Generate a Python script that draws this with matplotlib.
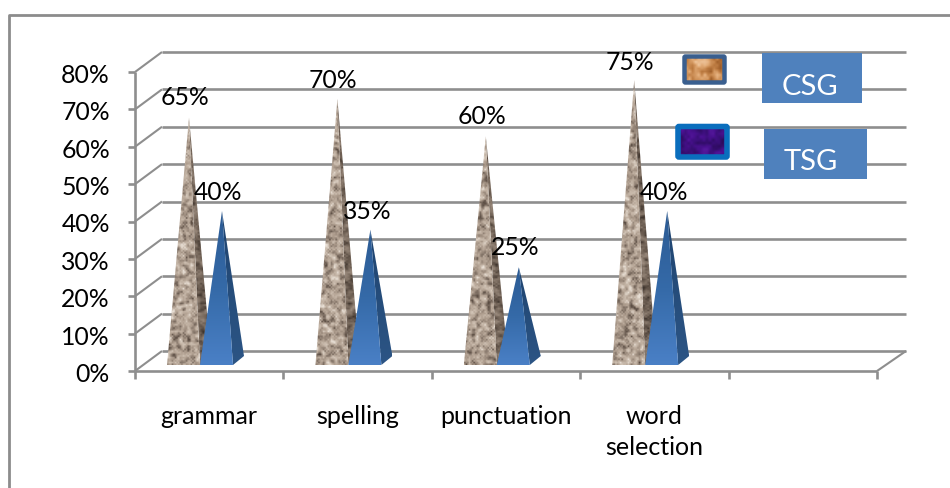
import numpy as np
import matplotlib
matplotlib.use("Agg")
import matplotlib.pyplot as plt
from matplotlib.patches import Polygon, Rectangle, FancyBboxPatch
from matplotlib.colors import LinearSegmentedColormap

categories = ["grammar", "spelling", "punctuation", "word\nselection", "", ""]
csg_values = [65, 70, 60, 75]
tsg_values = [40, 35, 25, 40]
y_ticks = [0, 10, 20, 30, 40, 50, 60, 70, 80]

plt.rcParams["font.family"] = ["Lato", "DejaVu Sans"]

GRID = "#8e8e8e"
W, H = 950, 489
# plot box in pixels, front plane
LEFT, RIGHT, BOTTOM, TOP = 135, 877, 372, 73

fig = plt.figure(figsize=(W / 100, H / 100), dpi=100)
ax = fig.add_axes([LEFT / W, 1 - BOTTOM / H, (RIGHT - LEFT) / W, (BOTTOM - TOP) / H])
ax.set_xlim(0, 5)
ax.set_ylim(0, 80)
ax.axis("off")

px_x = 5 / (RIGHT - LEFT)
px_y = 80 / (BOTTOM - TOP)
depth_x = 27 * px_x
depth_y = 20 * px_y
wall_end = 5 + 29 * px_x


def line(xs, ys, lw=1.9, color=GRID, z=1):
    ax.plot(xs, ys, color=color, lw=lw, clip_on=False, zorder=z, solid_capstyle="butt")


# back wall, side wall and floor
for v in y_ticks:
    line([0, depth_x], [v, v + depth_y], lw=1.5)
    line([depth_x, wall_end], [v + depth_y, v + depth_y])
    line([-7 * px_x, 0], [v, v])
line([0, 0], [0, 80])
line([0, 5], [0, 0])
line([5, wall_end], [0, depth_y], lw=1.5)
for i in range(6):
    line([i, i], [0, -8 * px_y])

for v in y_ticks:
    ax.text(-25 * px_x, v - 2.5 * px_y, f"{v}%", ha="right", va="center", fontsize=17.8, color="black")

for i, name in enumerate(categories):
    if name:
        ax.text(i + 0.5, -33 * px_y, name, ha="center", va="top", fontsize=18,
                color="black", linespacing=1.42, clip_on=False)

rng = np.random.default_rng(4)


def speckle(rows=160, cols=30, passes=1):
    # fine noise used for the stone and swatch fills
    a = rng.random((rows, cols))
    for _ in range(passes):
        a = (a + np.roll(a, 1, 0) + np.roll(a, 1, 1) + np.roll(a, -1, 0) + np.roll(a, -1, 1)) / 5
    lo, hi = np.percentile(a, [1, 99])
    return np.clip((a - lo) / (hi - lo), 0, 1)


stone = LinearSegmentedColormap.from_list("stone", ["#5a4c42", "#85766a", "#a99889", "#bdad9e", "#cdbfb1", "#e8dfd5"])
stone_dark = LinearSegmentedColormap.from_list("stone_dark", ["#3d332c", "#65574c", "#857669", "#9c8c7f"])
copper = LinearSegmentedColormap.from_list("copper_fill", ["#9c5c28", "#c07f45", "#dfa772", "#f0c8a0"])
violet = LinearSegmentedColormap.from_list("violet_fill", ["#2c0b5c", "#3a0f78", "#4a1190", "#551a9c"])
blue_front = LinearSegmentedColormap.from_list("blue_front", ["#2b5a93", "#356aa8", "#4a80c6"])
blue_side = LinearSegmentedColormap.from_list("blue_side", ["#1f4470", "#2c5585"])

base_w = 33 * px_x
base_dx = 11 * px_x
base_dy = 9 * px_y
# pyramid apex sits over the middle of the base, base front edge is 6px above the floor line
floor = 6 * px_y


def clipped_image(data, cmap, poly, z):
    xy = np.array(poly)
    im = ax.imshow(data, cmap=cmap, aspect="auto", origin="upper", zorder=z, vmin=0, vmax=1,
                   extent=[xy[:, 0].min(), xy[:, 0].max(), xy[:, 1].min(), xy[:, 1].max()],
                   interpolation="bilinear", clip_on=True)
    patch = Polygon(poly, closed=True, transform=ax.transData, fc="none", ec="none")
    ax.add_patch(patch)
    im.set_clip_path(patch)


def pyramid(x0, value, front_img, front_cmap, side_img, side_cmap, z):
    # value is read at the apex, measured from the centre of the base
    cx = x0 + base_w / 2 + base_dx / 2
    cy = floor + base_dy / 2
    apex = (cx, cy + value)
    a = (x0, floor)
    b = (x0 + base_w, floor)
    c = (x0 + base_w + base_dx, floor + base_dy)
    clipped_image(side_img, side_cmap, [b, c, apex], z)
    clipped_image(front_img, front_cmap, [a, b, apex], z + 0.1)


grad = np.linspace(0, 1, 256).reshape(-1, 1)
for i in range(4):
    x_csg = i + (167 - LEFT) * px_x
    x_tsg = x_csg + base_w
    rows = int(csg_values[i] / px_y / 1.6)
    pyramid(x_csg, csg_values[i], speckle(rows, 21), stone, speckle(rows, 10), stone_dark, 3 + i * 0.01)
    pyramid(x_tsg, tsg_values[i], grad, blue_front, grad, blue_side, 4 + i * 0.01)
ax.set_xlim(0, 5)
ax.set_ylim(0, 80)

# value labels sit just above and to the left of each apex
csg_lift = [21, 19, 21, 19]
tsg_lift = [19, 19, 21, 19]
for i in range(4):
    x_csg = i + (167 - LEFT) * px_x
    cx_c = x_csg + base_w / 2 + base_dx / 2
    cx_t = cx_c + base_w
    cy = floor + base_dy / 2
    ax.text(cx_c - 4 * px_x, cy + csg_values[i] + csg_lift[i] * px_y, f"{csg_values[i]}%", ha="center", va="center",
            fontsize=17.8, zorder=6, clip_on=False)
    ax.text(cx_t - 3.5 * px_x, cy + tsg_values[i] + tsg_lift[i] * px_y, f"{tsg_values[i]}%", ha="center", va="center",
            fontsize=17.8, zorder=6, clip_on=False)

# hand placed key, drawn in a pixel axes on top
key = fig.add_axes([0, 0, 1, 1])
key.axis("off")
key.patch.set_alpha(0)


def swatch(x0, y0, x1, y1, edge, lw, cmap):
    key.imshow(speckle(int(y1 - y0) // 3, int(x1 - x0) // 3, 1), cmap=cmap, extent=[x0, x1, y1, y0],
               aspect="auto", zorder=3, interpolation="bilinear", vmin=0, vmax=1)
    key.add_patch(FancyBboxPatch((x0, y0), x1 - x0, y1 - y0, boxstyle="round,pad=0,rounding_size=1",
                                 fc="none", ec=edge, lw=lw, zorder=4))


swatch(684.5, 57.5, 724.5, 83.5, "#3a5f8f", 3.2, copper)
swatch(678, 127.5, 727, 158, "#0a6ebd", 4.0, violet)
key.set_xlim(0, W)
key.set_ylim(H, 0)

for x0, y0, x1, y1, label, tx, ty in [(762, 54, 862, 104, "CSG", 810, 87), (764, 130, 867, 180, "TSG", 811, 162)]:
    key.add_patch(Rectangle((x0, y0), x1 - x0, y1 - y0, fc="#4f81bd", ec="none", zorder=3))
    key.text(tx, ty, label, color="white", ha="center", va="center", fontsize=21, zorder=4)

# outer frame of the chart area
key.plot([8.5, 8.5, 950], [489, 15.5, 15.5], color="#8c8c8c", lw=2, zorder=0, solid_capstyle="butt")

fig.savefig("out.png", dpi=100)
